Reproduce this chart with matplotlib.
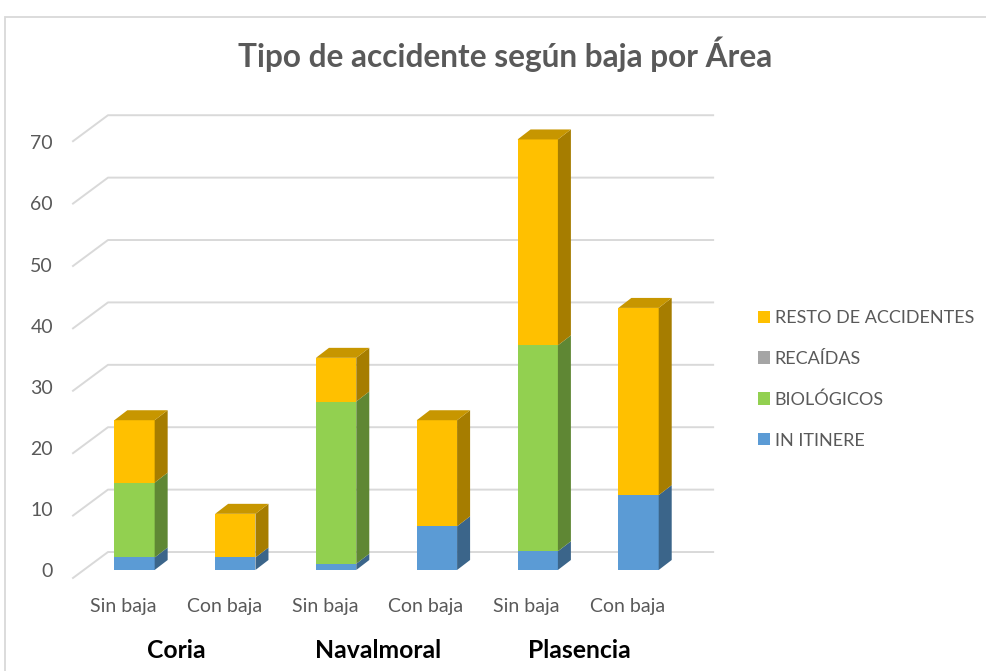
import matplotlib
matplotlib.use("Agg")
import matplotlib.pyplot as plt
from matplotlib.patches import Polygon, Patch, Rectangle
from matplotlib.lines import Line2D

plt.rcParams['font.family'] = ['Lato', 'DejaVu Sans']

# ---- data ----
areas = ["Coria", "Navalmoral", "Plasencia"]
bajas = ["Sin baja", "Con baja"]
categories = ["Sin baja", "Con baja", "Sin baja", "Con baja", "Sin baja", "Con baja"]
series_names = ["IN ITINERE", "BIOLÓGICOS", "RECAÍDAS", "RESTO DE ACCIDENTES"]
in_itinere = [2, 2, 1, 7, 3, 12]
biologicos = [12, 0, 26, 0, 33, 0]
recaidas = [0, 0, 0, 0, 0, 0]
resto = [10, 7, 7, 17, 33, 30]
yticks = [0, 10, 20, 30, 40, 50, 60, 70]
title = "Tipo de accidente según baja por Área"

colors = ["#5B9BD5", "#92D050", "#A5A5A5", "#FFC000"]
side_colors = ["#3B658A", "#5F8734", "#6B6B6B", "#A67D00"]
top_colors = ["#4A7CAA", "#74A640", "#848484", "#C79600"]

W, H = 987, 671
fig = plt.figure(figsize=(W / 100, H / 100), dpi=100)

# chart border
fig.patches.append(Rectangle((5 / W, -0.01), 1.2, (H - 17) / H + 0.01,
                             transform=fig.transFigure, fill=False,
                             edgecolor="#D9D9D9", linewidth=1.3))

ax = fig.add_axes([60 / W, 0, 660 / W, (671 - 100) / H])
ax.set_xlim(-0.739, 5.808)
ax.set_ylim(-16.19, 75.32)
ax.axis("off")

bar_w = 0.40
dx, dy = 0.129, 1.60          # bar depth offset
wall_dx, wall_dy0, front_dy0 = 0.347, 2.88, -1.28
x_front = -0.610
x_right = 5.74

# gridlines (side wall + back wall)
for v in yticks:
    ax.add_line(Line2D([x_front, x_front + wall_dx, x_right],
                       [v + front_dy0, v + wall_dy0, v + wall_dy0],
                       color="#D9D9D9", linewidth=1.4, zorder=1))
    ax.text(-0.809, -1.12 + 0.979 * v, str(v), ha="right", va="baseline",
            fontsize=14, color="#595959")

series = [in_itinere, biologicos, recaidas, resto]
for i in range(len(categories)):
    base = 0
    x0 = i - bar_w / 2
    x1 = i + bar_w / 2
    z = 3
    top_idx = max(k for k in range(4) if series[k][i] > 0)
    for k, s in enumerate(series):
        val = s[i]
        if val <= 0:
            continue
        y0, y1 = base, base + val
        ax.add_patch(Rectangle((x0, y0), bar_w, val, facecolor=colors[k],
                               edgecolor="none", zorder=z))
        ax.add_patch(Polygon([(x1, y0), (x1 + dx, y0 + dy), (x1 + dx, y1 + dy), (x1, y1)],
                             closed=True, facecolor=side_colors[k], edgecolor="none", zorder=z))
        if k == top_idx:
            ax.add_patch(Polygon([(x0, y1), (x1, y1), (x1 + dx, y1 + dy), (x0 + dx, y1 + dy)],
                                 closed=True, facecolor=top_colors[k], edgecolor="none", zorder=z))
        base = y1
        z += 1
    ax.text(i - 0.11, -6.73, categories[i], ha="center", va="baseline",
            fontsize=14, color="#595959")

for g, name in enumerate(areas):
    ax.text(2 * g + 0.5 - 0.085, -14.1, name, ha="center", va="baseline",
            fontsize=17.8, fontweight="bold", color="black")

fig.text(505 / W, 1 - 67 / H, title, ha="center", va="baseline",
         fontsize=22.8, fontweight="bold", color="#595959")

handles = [Patch(facecolor=colors[k], edgecolor="none") for k in range(4)][::-1]
labels = series_names[::-1]
fig.legend(handles, labels, loc="center left", bbox_to_anchor=(758 / W, 1 - 379.5 / H),
           frameon=False, fontsize=13, labelcolor="#595959",
           handlelength=0.68, handleheight=0.68, handletextpad=0.25,
           labelspacing=1.36, borderpad=0, borderaxespad=0)

fig.savefig("out.png", dpi=100)
